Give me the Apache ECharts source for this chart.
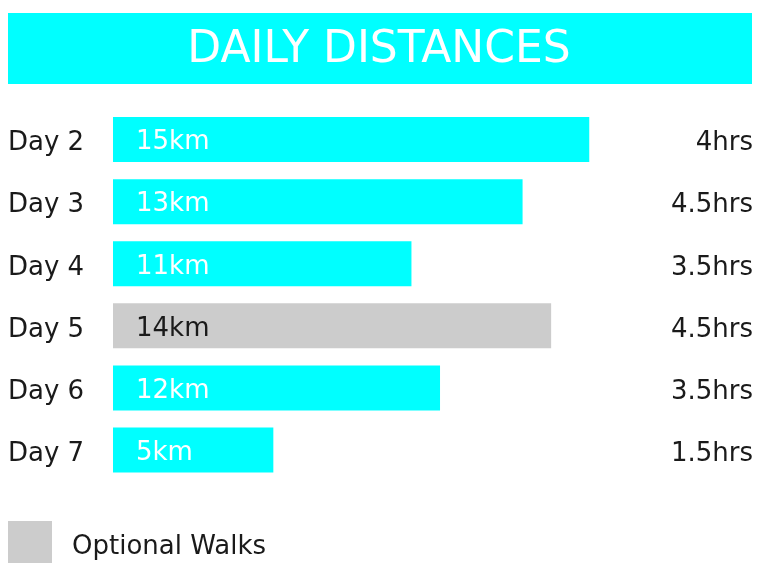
<!DOCTYPE html>
<html style="height: 100%">
<head>
    <meta charset="utf-8">
    <script src="https://cdn.jsdelivr.net/npm/echarts@6/dist/echarts.min.js"></script>
    <title>Daily distances</title>
</head>
<body style="height: 100%; margin: 0; background: #fff">
<div id="container" style="width: 758px; height: 563px"></div>
<script type="text/javascript">

    // rows, top to bottom
    let days = ['Day 2', 'Day 3', 'Day 4', 'Day 5', 'Day 6', 'Day 7']
    // bar lengths as drawn (km scale)
    let barValues = [15, 12.9, 9.4, 13.8, 10.3, 5.05]
    let distLabels = ['15km', '13km', '11km', '14km', '12km', '5km']
    let hours = ['4hrs', '4.5hrs', '3.5hrs', '4.5hrs', '3.5hrs', '1.5hrs']
    let optional = [false, false, false, true, false, false]

    let font = 'DejaVu Sans'
    let cyan = '#00FFFF'
    let grey = '#CCCCCC'

    // split into normal and optional walks so the legend can name the grey one
    let mainData = barValues.map((v, i) => optional[i] ? '-' : v)
    let optData = barValues.map((v, i) => optional[i] ? v : '-')

    // rich style used to push the plain text labels a few px down
    let low = {t: {padding: [8, 0, 0, 0], color: '#1a1a1a', fontFamily: font, fontSize: 26}}

    let dom = document.getElementById("container")
    let chart = echarts.init(dom)
    chart.setOption({
        animation: false,
        title: {
            text: 'DAILY DISTANCES',
            left: 'center',
            top: 29,
            padding: 0,
            textStyle: {color: '#fff', fontFamily: font, fontSize: 44, fontWeight: 'normal'}
        },
        graphic: [{
            type: 'rect',
            z: -1,
            shape: {x: 8, y: 13, width: 744, height: 71},
            style: {fill: cyan}
        }],
        legend: {
            data: ['Optional Walks'],
            left: 8,
            top: 521,
            padding: 0,
            icon: 'rect',
            itemWidth: 44,
            itemHeight: 44,
            itemGap: 0,
            selectedMode: false,
            formatter: name => '{t|' + name + '}',
            textStyle: {color: '#1a1a1a', fontFamily: font, fontSize: 26, padding: [0, 0, 0, 15], rich: low}
        },
        grid: {left: 113, top: 108.5, width: 635, height: 372.6},
        xAxis: {
            type: 'value', min: 0, max: 20, show: false
        },
        yAxis: [{
            type: 'category',
            data: days,
            inverse: true,
            axisLine: {show: false},
            axisTick: {show: false},
            axisLabel: {
                align: 'left', margin: 105,
                formatter: v => '{t|' + v + '}', rich: low,
                color: '#1a1a1a', fontFamily: font, fontSize: 26
            }
        }, {
            type: 'category',
            data: hours,
            inverse: true,
            position: 'right',
            axisLine: {show: false},
            axisTick: {show: false},
            axisLabel: {
                align: 'right', margin: 5,
                formatter: v => '{t|' + v + '}', rich: low,
                color: '#1a1a1a', fontFamily: font, fontSize: 26
            }
        }],
        series: [{
            name: 'Walks',
            type: 'bar',
            stack: 'all',
            barWidth: 45,
            data: mainData,
            itemStyle: {color: cyan},
            label: {
                show: true, position: 'insideLeft', distance: 23, offset: [0, 3],
                formatter: p => distLabels[p.dataIndex],
                color: '#fff', fontFamily: font, fontSize: 26
            }
        }, {
            name: 'Optional Walks',
            type: 'bar',
            stack: 'all',
            barWidth: 45,
            data: optData,
            itemStyle: {color: grey},
            label: {
                show: true, position: 'insideLeft', distance: 23, offset: [0, 3],
                formatter: p => distLabels[p.dataIndex],
                color: '#1a1a1a', fontFamily: font, fontSize: 26
            }
        }]
    })

</script>
</body>
</html>
